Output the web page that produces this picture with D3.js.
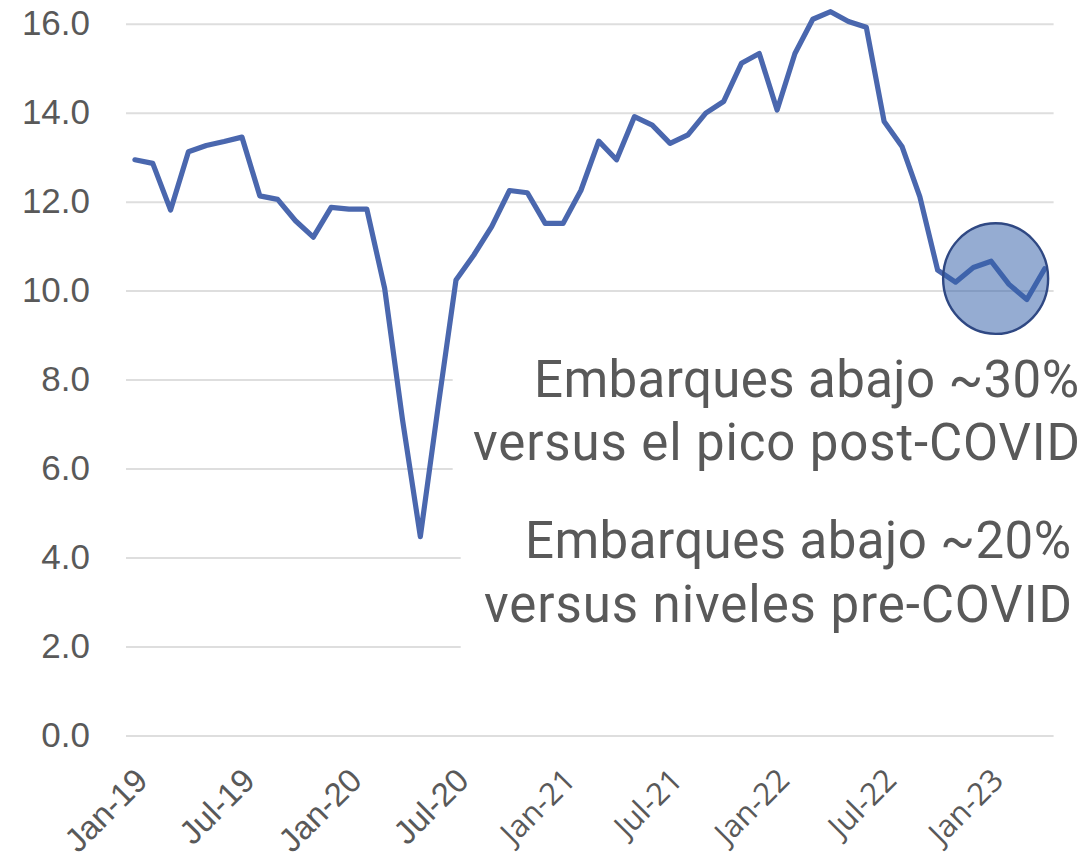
<!DOCTYPE html>
<html>
<head>
<meta charset="utf-8">
<script src="https://cdn.jsdelivr.net/npm/d3@7"></script>
<style>
  html, body { margin: 0; padding: 0; background: #fff; }
  svg { display: block; }
</style>
</head>
<body>
<div id="chart"></div>
<script>
// monthly shipments, Jan-19 .. Apr-23
var months = [
  "Jan-19", "Feb-19", "Mar-19", "Apr-19", "May-19", "Jun-19", "Jul-19", "Aug-19", "Sep-19", "Oct-19", "Nov-19", "Dec-19",
  "Jan-20", "Feb-20", "Mar-20", "Apr-20", "May-20", "Jun-20", "Jul-20", "Aug-20", "Sep-20", "Oct-20", "Nov-20", "Dec-20",
  "Jan-21", "Feb-21", "Mar-21", "Apr-21", "May-21", "Jun-21", "Jul-21", "Aug-21", "Sep-21", "Oct-21", "Nov-21", "Dec-21",
  "Jan-22", "Feb-22", "Mar-22", "Apr-22", "May-22", "Jun-22", "Jul-22", "Aug-22", "Sep-22", "Oct-22", "Nov-22", "Dec-22",
  "Jan-23", "Feb-23", "Mar-23", "Apr-23"
];
var shipments = [
  12.94, 12.86, 11.81, 13.12, 13.26, 13.35, 13.45, 12.13, 12.05, 11.57, 11.20, 11.87,
  11.83, 11.83, 10.05, 7.10, 4.47, 7.40, 10.24, 10.80, 11.44, 12.25, 12.20, 11.51,
  11.51, 12.25, 13.36, 12.94, 13.91, 13.72, 13.31, 13.50, 13.99, 14.25, 15.11, 15.33,
  14.06, 15.33, 16.10, 16.27, 16.05, 15.92, 13.80, 13.24, 12.11, 10.46, 10.19, 10.52,
  10.66, 10.14, 9.80, 10.49
];
var yTicks = [0, 2, 4, 6, 8, 10, 12, 14, 16];
var xTickLabels = ["Jan-19", "Jul-19", "Jan-20", "Jul-20", "Jan-21", "Jul-21", "Jan-22", "Jul-22", "Jan-23"];
var noteLines = [
  "Embarques abajo ~30%", "versus el pico post-COVID",
  "Embarques abajo ~20%", "versus niveles pre-COVID"
];
// highlighted stretch: centre month position and level
var highlightAt = 48.25, highlightLevel = 10.27;

var width = 1089, height = 864;
var margin = { top: 23.7, right: 35.4, bottom: 128.6, left: 126 };

var textGrey = "#595959", lineBlue = "#4A67AE";

var svg = d3.select("#chart")
  .append("svg")
  .attr("width", width)
  .attr("height", height);

var x = d3.scalePoint()
  .domain(months)
  .range([margin.left, width - margin.right])
  .padding(0.5);

var y = d3.scaleLinear()
  .domain([0, 16])
  .range([height - margin.bottom, margin.top]);

// gridlines + y labels
var yAxis = svg.append("g")
  .attr("transform", "translate(" + margin.left + ",0)")
  .call(d3.axisLeft(y)
    .tickValues(yTicks)
    .tickSize(-(width - margin.left - margin.right))
    .tickPadding(36)
    .tickFormat(d3.format(".1f")));
yAxis.select(".domain").remove();
yAxis.selectAll("line").attr("stroke", "#DEDEDE").attr("stroke-width", 2);
yAxis.selectAll("text")
  .attr("fill", textGrey)
  .style("font-family", "'Liberation Sans', Arial, sans-serif")
  .style("font-size", "35px");

// x labels
var xAxis = svg.append("g")
  .attr("transform", "translate(0," + (height - margin.bottom) + ")")
  .call(d3.axisBottom(x).tickValues(xTickLabels).tickSize(0));
xAxis.select(".domain").remove();
xAxis.selectAll("text")
  .attr("x", 0)
  .attr("y", 0)
  .attr("dy", "0.35em")
  .attr("transform", "translate(6,39) rotate(-45)")
  .attr("fill", textGrey)
  .style("text-anchor", "end")
  .style("font-family", function(d) {
    return months.indexOf(d) >= 24 ? "'Open Sans', sans-serif" : "'Liberation Sans', Arial, sans-serif";
  })
  .style("font-size", function(d) { return months.indexOf(d) >= 24 ? "31px" : "33px"; });

// white boxes behind the notes hide the gridlines
svg.append("rect").attr("x", 452.7).attr("y", 345).attr("width", width - 452.7).attr("height", 155).attr("fill", "#fff");
svg.append("rect").attr("x", 460.7).attr("y", 500).attr("width", width - 460.7).attr("height", 190).attr("fill", "#fff");

var line = d3.line()
  .x(function(d, i) { return x(months[i]); })
  .y(function(d) { return y(d); });

svg.append("path")
  .datum(shipments)
  .attr("d", line)
  .attr("fill", "none")
  .attr("stroke", lineBlue)
  .attr("stroke-width", 5.2)
  .attr("stroke-linejoin", "round")
  .attr("stroke-linecap", "round");

// highlight ellipse
svg.append("ellipse")
  .attr("cx", x(months[0]) + highlightAt * x.step())
  .attr("cy", y(highlightLevel))
  .attr("rx", 52.5)
  .attr("ry", 55.3)
  .attr("fill", "#3460A8")
  .attr("fill-opacity", 0.52)
  .attr("stroke", "#2F4883")
  .attr("stroke-width", 2.4);

// notes
var noteY = [396.7, 460, 558.3, 621.7];
var noteX = [1079, 1080, 1071, 1072];
var noteW = [545, 607, 546, 588];
svg.append("g")
  .selectAll("text")
  .data(noteLines)
  .enter()
  .append("text")
  .attr("x", function(d, i) { return noteX[i]; })
  .attr("y", function(d, i) { return noteY[i]; })
  .attr("text-anchor", "end")
  .attr("textLength", function(d, i) { return noteW[i]; })
  .attr("lengthAdjust", "spacing")
  .attr("fill", textGrey)
  .style("font-family", "Roboto, sans-serif")
  .style("font-size", "51px")
  .text(function(d) { return d; });
</script>
</body>
</html>
